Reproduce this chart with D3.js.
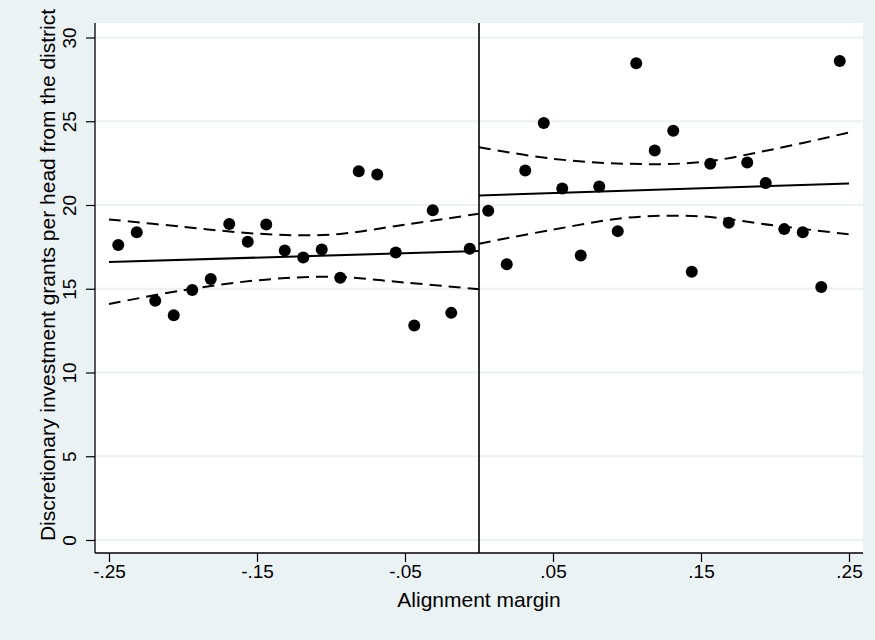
<!DOCTYPE html>
<html>
<head>
<meta charset="utf-8">
<script src="https://cdn.jsdelivr.net/npm/d3@7"></script>
<style>
  body { margin: 0; background: #eaf2f3; }
  svg { display: block; font-family: "Liberation Sans", Arial, sans-serif; }
</style>
</head>
<body>
<script>
// bin midpoints and bin means, left and right of the cutoff
const binsLeft = [-0.24375, -0.23125, -0.21875, -0.20625, -0.19375, -0.18125, -0.16875, -0.15625, -0.14375, -0.13125,
  -0.11875, -0.10625, -0.09375, -0.08125, -0.06875, -0.05625, -0.04375, -0.03125, -0.01875, -0.00625];
const meansLeft = [17.61, 18.38, 14.29, 13.42, 14.93, 15.58, 18.86, 17.81, 18.84, 17.29,
  16.86, 17.35, 15.66, 22.02, 21.82, 17.17, 12.80, 19.68, 13.56, 17.39];
const binsRight = [0.00625, 0.01875, 0.03125, 0.04375, 0.05625, 0.06875, 0.08125, 0.09375, 0.10625, 0.11875,
  0.13125, 0.14375, 0.15625, 0.16875, 0.18125, 0.19375, 0.20625, 0.21875, 0.23125, 0.24375];
const meansRight = [19.66, 16.46, 22.06, 24.89, 20.99, 16.98, 21.11, 18.44, 28.46, 23.26,
  24.43, 16.02, 22.46, 18.94, 22.54, 21.31, 18.56, 18.37, 15.11, 28.60];

// linear fits
const fitXLeft = [-0.25, 0];
const fitLeft = [16.60, 17.25];
const fitXRight = [0, 0.25];
const fitRight = [20.57, 21.29];

// confidence bands
const ciXLeft = [-0.25, -0.2, -0.15, -0.1, -0.05, 0];
const ciUpLeft = [19.14, 18.70, 18.29, 18.23, 18.83, 19.48];
const ciLoLeft = [14.09, 14.91, 15.50, 15.72, 15.37, 14.97];
const ciXRight = [0, 0.05, 0.1, 0.15, 0.2, 0.25];
const ciUpRight = [23.45, 22.76, 22.46, 22.56, 23.35, 24.33];
const ciLoRight = [17.69, 18.53, 19.24, 19.32, 18.77, 18.25];

const xTicks = [-0.25, -0.15, -0.05, 0.05, 0.15, 0.25];
const xTickLabels = ["-.25", "-.15", "-.05", ".05", ".15", ".25"];
const yTicks = [0, 5, 10, 15, 20, 25, 30];

const W = 875, H = 640;
const box = { left: 95, right: 863, top: 23, bottom: 553 };

const svg = d3.select("body").append("svg").attr("width", W).attr("height", H);
svg.append("rect").attr("width", W).attr("height", H).attr("fill", "#eaf2f3");
svg.append("rect")
  .attr("x", box.left).attr("y", box.top)
  .attr("width", box.right - box.left).attr("height", box.bottom - box.top)
  .attr("fill", "#fff");

const x = d3.scaleLinear().domain([-0.25, 0.25]).range([109, 849]);
const y = d3.scaleLinear().domain([0, 30]).range([540, 37.5]);

// grid
svg.append("g").selectAll("line").data(yTicks).enter().append("line")
  .attr("x1", box.left).attr("x2", box.right)
  .attr("y1", d => y(d)).attr("y2", d => y(d))
  .attr("stroke", "#eaf2f3").attr("stroke-width", 2);

// axes
const xAxis = svg.append("g").attr("transform", `translate(0,${box.bottom})`)
  .call(d3.axisBottom(x).tickValues(xTicks).tickFormat((d, i) => xTickLabels[i]).tickSize(9).tickSizeOuter(0));
const yAxis = svg.append("g").attr("transform", `translate(${box.left},0)`)
  .call(d3.axisLeft(y).tickValues(yTicks).tickSize(9).tickSizeOuter(0));
xAxis.select(".domain").remove();
yAxis.select(".domain").remove();
[xAxis, yAxis].forEach(a => a.selectAll(".tick line").attr("stroke", "#000").attr("stroke-width", 1.2));
xAxis.selectAll(".tick text").attr("font-size", 19).attr("fill", "#000").attr("y", 12).attr("dy", "0.71em")
  .attr("font-family", "Liberation Sans, Arial, sans-serif");
yAxis.selectAll(".tick text")
  .attr("font-size", 19).attr("fill", "#000").attr("font-family", "Liberation Sans, Arial, sans-serif")
  .attr("x", null).attr("dy", null)
  .attr("text-anchor", "middle")
  .attr("transform", "translate(-19,0) rotate(-90)");

svg.append("line").attr("x1", box.left).attr("x2", box.right)
  .attr("y1", box.bottom).attr("y2", box.bottom).attr("stroke", "#000").attr("stroke-width", 1.3);
svg.append("line").attr("x1", box.left).attr("x2", box.left)
  .attr("y1", box.top).attr("y2", box.bottom).attr("stroke", "#000").attr("stroke-width", 1.3);

// cutoff
svg.append("line").attr("x1", x(0)).attr("x2", x(0))
  .attr("y1", box.top).attr("y2", box.bottom).attr("stroke", "#000").attr("stroke-width", 1.6);

// titles
svg.append("text").attr("x", (box.left + box.right) / 2).attr("y", 607)
  .attr("text-anchor", "middle").attr("font-size", 21).text("Alignment margin");
svg.append("text").attr("transform", "translate(54.5,275) rotate(-90)")
  .attr("text-anchor", "middle").attr("font-size", 21)
  .text("Discretionary investment grants per head from the district");

// fits and bands
const line = d3.line().x(d => x(d[0])).y(d => y(d[1]));
const curve = d3.line().x(d => x(d[0])).y(d => y(d[1])).curve(d3.curveCatmullRom);

function drawSide(fx, fy, cx, up, lo) {
  svg.append("path").datum(d3.zip(fx, fy)).attr("d", line)
    .attr("fill", "none").attr("stroke", "#000").attr("stroke-width", 2);
  [up, lo].forEach(band => {
    svg.append("path").datum(d3.zip(cx, band)).attr("d", curve)
      .attr("fill", "none").attr("stroke", "#000").attr("stroke-width", 2)
      .attr("stroke-dasharray", "12,7");
  });
}
drawSide(fitXLeft, fitLeft, ciXLeft, ciUpLeft, ciLoLeft);
drawSide(fitXRight, fitRight, ciXRight, ciUpRight, ciLoRight);

// bin means
const pts = d3.zip(binsLeft, meansLeft).concat(d3.zip(binsRight, meansRight));
svg.append("g").selectAll("circle").data(pts).enter().append("circle")
  .attr("cx", d => x(d[0])).attr("cy", d => y(d[1])).attr("r", 6)
  .attr("fill", "#000");
</script>
</body>
</html>
